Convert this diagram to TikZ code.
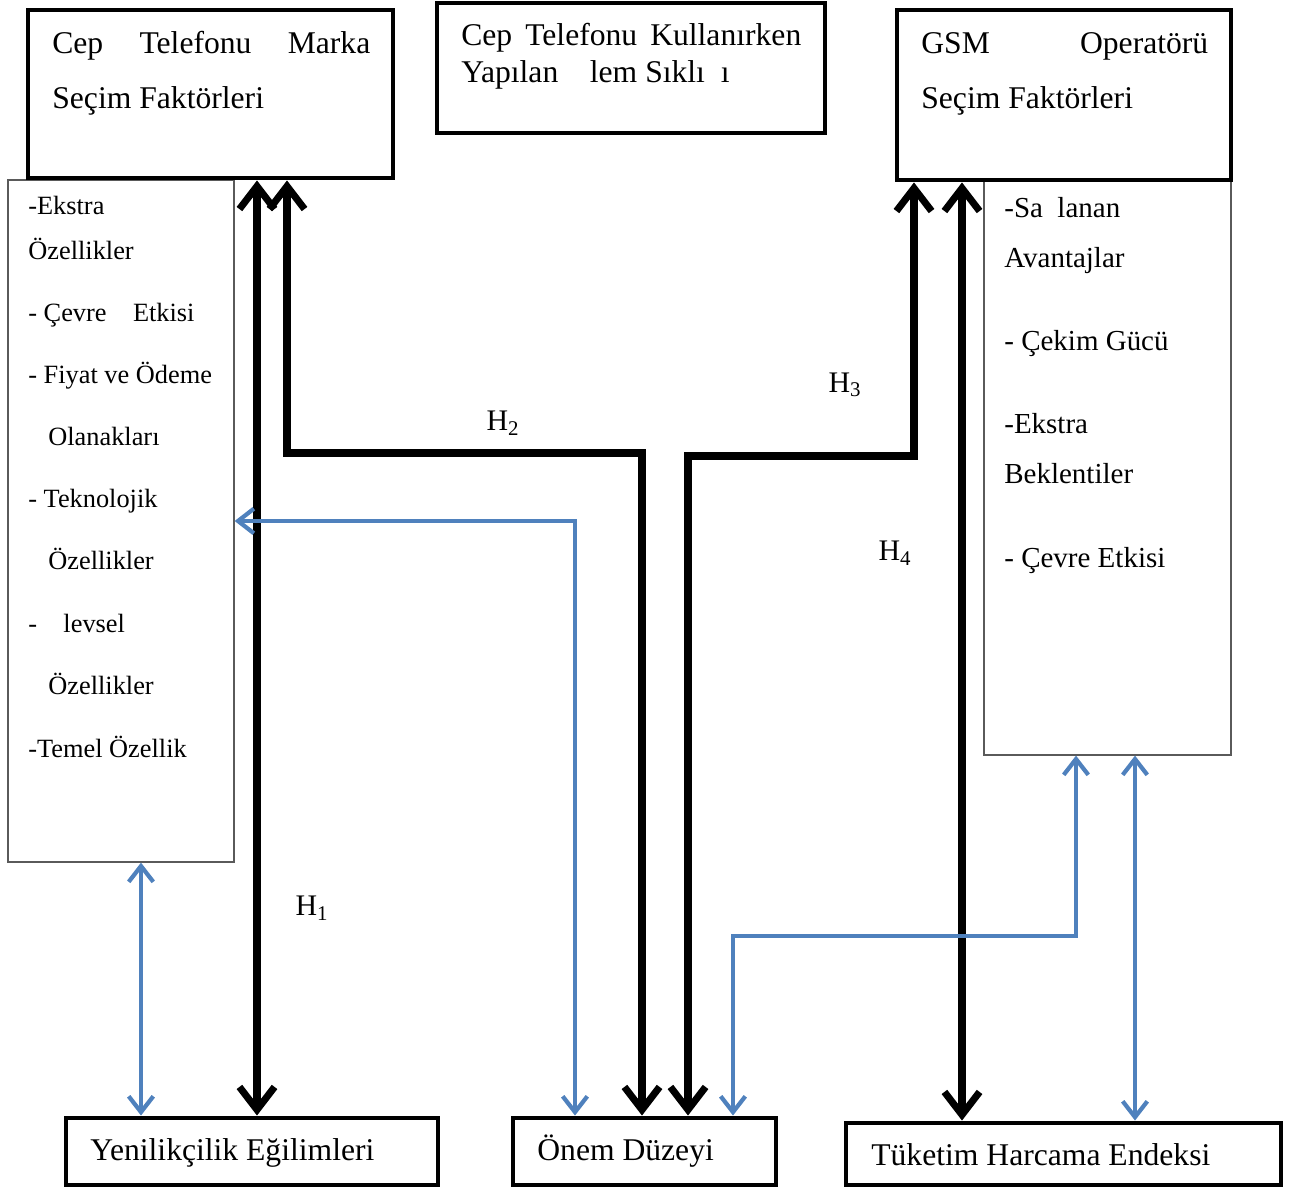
\documentclass[tikz,border=0pt]{standalone}
\usepackage{fontspec}
\setmainfont{Liberation Serif}
\usetikzlibrary{arrows.meta,fit}
\definecolor{linkblue}{RGB}{79,129,189}
\definecolor{listgray}{RGB}{90,90,90}

\begin{document}
\begin{tikzpicture}[x=0.02cm,y=-0.02cm,
    thickbox/.style={draw,line width=2.8pt,inner sep=0pt},
    listbox/.style={draw=listgray,line width=0.7pt,inner sep=0pt},
    boxtext/.style={anchor=base west,inner sep=0pt,font=\fontsize{18}{22}\selectfont},
    lefttext/.style={anchor=base west,inner sep=0pt,font=\fontsize{15}{18}\selectfont},
    righttext/.style={anchor=base west,inner sep=0pt,font=\fontsize{16.5}{20}\selectfont},
    hlabel/.style={inner sep=0pt,font=\fontsize{17}{20}\selectfont},
    bigarrow/.style={line width=4pt,{Straight Barb[length=13pt,width=20pt]}-{Straight Barb[length=13pt,width=20pt]}},
    bluearrow/.style={draw=linkblue,line width=2.4pt,{Straight Barb[length=9pt,width=14pt]}-{Straight Barb[length=9pt,width=14pt]}}]
    \useasboundingbox (0,0) rectangle (1289,1189);
    % list boxes
    \node[listbox,fit={(8,180)(234,862)}] (ozellik) {};
    \node[listbox,fit={(984,180)(1231,755)}] (avantaj) {};
    % top boxes
    \node[thickbox,fit={(28,10)(393,178)}] (marka) {};
    \node[thickbox,fit={(437,3)(825,133)}] (islem) {};
    \node[thickbox,fit={(897,10)(1231,180)}] (gsm) {};
    % bottom boxes
    \node[thickbox,fit={(66,1118)(438,1185)}] (yenilik) {};
    \node[thickbox,fit={(513,1118)(776,1185)}] (onem) {};
    \node[thickbox,fit={(846,1123)(1281,1185)}] (tuketim) {};

    \node[boxtext] (markaA) at (52,54) {\makebox[6.36cm][s]{Cep\hfill Telefonu\hfill Marka}};
    \node[boxtext] (markaB) at (52,109) {Seçim Faktörleri};
    \node[boxtext] (islemA) at (461,46) {\makebox[6.8cm][s]{Cep Telefonu Kullanırken}};
    \node[boxtext] (islemB) at (461,83) {Yapılan\quad lem Sıklı\enspace ı};
    \node[boxtext] (gsmA) at (921,54) {\makebox[5.74cm][s]{GSM\hfill Operatörü}};
    \node[boxtext] (gsmB) at (921,109) {Seçim Faktörleri};

    \foreach \y/\x/\t [count=\i] in {215/28/-Ekstra, 260/28/Özellikler, 322/28/- Çevre\quad Etkisi,
        384/28/- Fiyat ve Ödeme, 446/48/Olanakları, 508/28/- Teknolojik, 570/48/Özellikler,
        632/28/-\quad levsel, 694/48/Özellikler, 757/28/-Temel Özellik}
        \node[lefttext] (ozl\i) at (\x,\y) {\t};
    \foreach \y/\t [count=\i] in {218/-Sa\enspace lanan, 268/Avantajlar, 351/- Çekim Gücü,
        434/-Ekstra, 484/Beklentiler, 568/- Çevre Etkisi}
        \node[righttext] (av\i) at (1004,\y) {\t};

    \node[boxtext] (yenilikT) at (90,1160) {Yenilikçilik Eğilimleri};
    \node[boxtext] (onemT) at (537,1160) {Önem Düzeyi};
    \node[boxtext] (tuketimT) at (871,1165) {Tüketim Harcama Endeksi};

    % column coordinates
    \coordinate (c1) at (257,0);
    \coordinate (c2) at (287,0);
    \coordinate (c3) at (914,0);
    \coordinate (c4) at (962,0);
    \coordinate (h2bend) at (642,453);
    \coordinate (h3bend) at (688,456);
    \coordinate (b1) at (141,0);
    \coordinate (b2) at (575,521);
    \coordinate (b3) at (1076,0);
    \coordinate (b3bend) at (733,936);
    \coordinate (b4) at (1135,0);

    % hypotheses
    \draw[bigarrow] (marka.south -| c1) -- (yenilik.north -| c1);
    \draw[bigarrow] (marka.south -| c2) |- (h2bend) -- (onem.north -| h2bend);
    \draw[bigarrow] (gsm.south -| c3) |- (h3bend) -- (onem.north -| h3bend);
    \draw[bigarrow] (gsm.south -| c4) -- (tuketim.north -| c4);

    \draw[bluearrow] (ozellik.south -| b1) -- (yenilik.north -| b1);
    \draw[bluearrow] (ozellik.east |- b2) -| (onem.north -| b2);
    \draw[bluearrow] (avantaj.south -| b3) |- (b3bend) -- (onem.north -| b3bend);
    \draw[bluearrow] (avantaj.south -| b4) -- (tuketim.north -| b4);

    \node[hlabel] (h1) at (312,908) {H\textsubscript{1}};
    \node[hlabel] (h2) at (503,423) {H\textsubscript{2}};
    \node[hlabel] (h3) at (845,385) {H\textsubscript{3}};
    \node[hlabel] (h4) at (895,553) {H\textsubscript{4}};
\end{tikzpicture}
\end{document}
